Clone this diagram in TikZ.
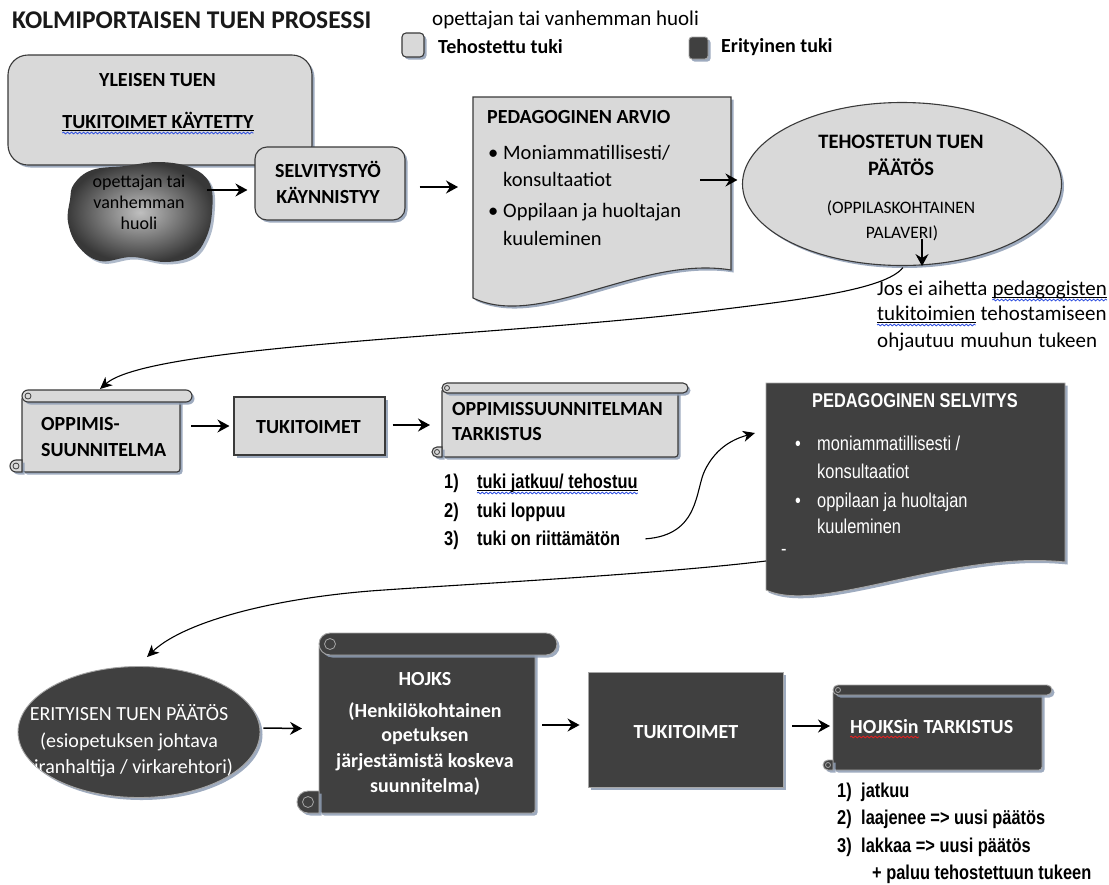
\documentclass[tikz,border=0pt]{standalone}
\usepackage{fontspec}
\setmainfont{Carlito}
\newfontfamily\narrowf[FakeStretch=0.82]{Liberation Sans}
\usetikzlibrary{shapes.geometric,shadows,arrows.meta,decorations.pathmorphing}
\definecolor{lightfill}{HTML}{D9D9D9}
\definecolor{darkfill}{HTML}{404040}
\definecolor{shadowc}{HTML}{8E9DB4}
\definecolor{edgec}{HTML}{3A3A3A}
\definecolor{wavered}{HTML}{E02020}
\definecolor{waveblue}{HTML}{3050E0}
% scroll: #1 style, #2 curl colour, #3 L, #4 T, #5 R, #6 B, #7 d
\newcommand\drawscroll[7]{%
 \pgfmathsetmacro\zh{#7/2}\pgfmathsetmacro\zq{#7/4}%
 \pgfmathsetmacro\zbl{#3+#7}\pgfmathsetmacro\zbr{#5-#7}\pgfmathsetmacro\zbt{#4+#7/2}%
 \pgfmathsetmacro\zrb{#4+#7}\pgfmathsetmacro\zra{#3+1.5*#7}\pgfmathsetmacro\zrr{#5-#7/2}%
 \pgfmathsetmacro\zcb{#6-#7}\pgfmathsetmacro\zcx{#3+#7/2}\pgfmathsetmacro\zcy{#6-#7/2}%
 \path[#1,rounded corners=3pt] (\zbl,\zbt) -- (\zbr,\zbt) -- (\zbr,#6) -- (\zbl,#6) -- cycle;
 \path[#1] (\zbl,\zcb) -- (\zcx,\zcb) arc[start angle=90,end angle=270,radius=\zh pt] -- (\zbl,#6) -- cycle;
 \path[#1] (\zra,#4) -- (\zrr,#4) arc[start angle=90,end angle=-90,radius=\zh pt] -- (\zra,\zrb) arc[start angle=270,end angle=90,radius=\zh pt] -- cycle;
 \draw[#2,line width=0.8pt] ({\zra},{#4+\zh}) circle[radius=\zq pt];
 \draw[#2,line width=0.8pt] ({\zcx},{\zcy}) circle[radius=\zq pt];
}
\tikzset{
 sh/.style={drop shadow={shadow xshift=2.5pt,shadow yshift=-2.5pt,fill=shadowc,opacity=0.85}},
 lightbox/.style={fill=lightfill,draw=edgec,line width=1.1pt,sh},
 darkbox/.style={fill=darkfill,draw=black!35,line width=0.9pt,sh},
 arr/.style={-{Stealth[length=12pt,width=13pt,inset=4pt]},line width=1.5pt},
 carr/.style={-{Stealth[length=12pt,width=11pt,inset=3.5pt]},line width=1.1pt},
 lbl/.style={font=\bfseries\fontsize{20}{25}\selectfont,inner sep=0},
 txt/.style={font=\fontsize{20.5}{27}\selectfont,inner sep=0},
 jtx/.style={font=\fontsize{21}{26}\selectfont,inner sep=0},
 nb/.style={font=\narrowf\bfseries\fontsize{20}{25}\selectfont,inner sep=0},
 nr/.style={font=\narrowf\fontsize{20}{25}\selectfont,inner sep=0},
 ghost/.style={inner sep=0,outer sep=0},
 ulin/.style={line width=0.9pt},
 wave/.style={line width=0.8pt,decorate,decoration={snake,amplitude=0.9pt,segment length=4pt}},
}
\begin{document}
\begin{tikzpicture}[x=1pt,y=-1pt]
\useasboundingbox (0,0) rectangle (1109,884);
\fill[white] (0,0) rectangle (1109,884);

% title and legend
\node[anchor=base west,font=\bfseries\fontsize{25.5}{30}\selectfont,inner sep=0,text=black!90] (title) at (12,28) {KOLMIPORTAISEN TUEN PROSESSI};
\node[anchor=base west,inner sep=0,font=\fontsize{21}{25}\selectfont] (legtxt) at (432,25) {opettajan tai vanhemman huoli};
\node[lightbox,rounded corners=4pt,minimum width=22pt,minimum height=24pt,inner sep=0] (legl) at (413,45) {};
\node[lbl,anchor=base west] (leglt) at (438,53) {Tehostettu tuki};
\node[darkbox,rounded corners=3pt,minimum width=19pt,minimum height=22pt,inner sep=0] (legd) at (698.5,48) {};
\node[lbl,anchor=base west] (legdt) at (721,52) {Erityinen tuki};

% yleisen tuen box
\node[lightbox,rounded corners=20pt,minimum width=304pt,minimum height=110pt,inner sep=0] (ylei) at (160,110) {};
\node[lbl,anchor=base] (yleit1) at (157.5,86) {YLEISEN TUEN};
\node[lbl,anchor=base] (yleit2) at (158,128) {TUKITOIMET KÄYTETTY};
\draw[ulin] ([yshift=-2.5pt]yleit2.base west) -- ([yshift=-2.5pt]yleit2.base east);
\draw[wave,waveblue] ([yshift=-5pt]yleit2.base west) -- ([yshift=-5pt]yleit2.base east);

% blob
\path[shading=radial,inner color=black!25,outer color=black!78,drop shadow={shadow xshift=2.5pt,shadow yshift=-2.5pt,fill=shadowc,opacity=0.7}]
 plot[smooth cycle,tension=0.65] coordinates {(74,184) (92,170) (125,166) (160,162) (192,168) (210,184) (212,212) (206,238) (192,256) (165,262) (132,257) (100,261) (78,246) (68,222) (70,200)};
\node[ghost,minimum width=144pt,minimum height=99pt] (blob) at (140,212.5) {};
\node[anchor=base,inner sep=0,font=\fontsize{18}{21}\selectfont] (bt1) at (139,187) {opettajan tai};
\node[anchor=base,inner sep=0,font=\fontsize{18}{21}\selectfont] (bt2) at (139,208) {vanhemman};
\node[anchor=base,inner sep=0,font=\fontsize{18}{21}\selectfont] (bt3) at (139,229) {huoli};

% selvitystyö
\node[lightbox,rounded corners=12pt,minimum width=150pt,minimum height=73pt,inner sep=0] (selv) at (330,183.5) {};
\node[lbl,anchor=base] (selvt1) at (328,177) {SELVITYSTYÖ};
\node[lbl,anchor=base] (selvt2) at (328,203) {KÄYNNISTYY};

% pedagoginen arvio
\path[lightbox] (473,97) -- (731,97) -- (731,270) .. controls (640,255) and (540,330) .. (473,298) -- cycle;
\node[ghost,minimum width=258pt,minimum height=201pt] (arvio) at (602,197.5) {};
\node[lbl,anchor=base west] (arviot) at (487,123) {PEDAGOGINEN ARVIO};
\node[txt,anchor=base west] (ab1) at (488,159) {•};
\node[txt,anchor=base west] (ab2) at (488,217) {•};
\node[txt,anchor=base west] (al1) at (503,159) {Moniammatillisesti/};
\node[txt,anchor=base west] (al2) at (503,186) {konsultaatiot};
\node[txt,anchor=base west] (al3) at (503,217) {Oppilaan ja huoltajan};
\node[txt,anchor=base west] (al4) at (503,245) {kuuleminen};

% tehostetun tuen päätös
\node[lightbox,ellipse,minimum width=319pt,minimum height=163pt,inner sep=0] (teh) at (902,184) {};
\node[anchor=base,inner sep=0,font=\bfseries\fontsize{20.5}{25}\selectfont] (teht1) at (901,148) {TEHOSTETUN TUEN};
\node[anchor=base,inner sep=0,font=\bfseries\fontsize{20.5}{25}\selectfont] (teht2) at (901,175) {PÄÄTÖS};
\node[anchor=base,inner sep=0,font=\fontsize{17.5}{20}\selectfont] (teht3) at (901,213) {(OPPILASKOHTAINEN};
\node[anchor=base,inner sep=0,font=\fontsize{17.5}{20}\selectfont] (teht4) at (902,238) {PALAVERI)};

\node[jtx,anchor=base west] (jos1a) at (877,295) {Jos ei aihetta};
\node[jtx,anchor=base west] (jos1b) at ([xshift=4.8pt]jos1a.base east) {pedagogisten};
\node[jtx,anchor=base west] (jos2a) at (877,320) {tukitoimien};
\node[jtx,anchor=base west] (jos2b) at ([xshift=4.8pt]jos2a.base east) {tehostamiseen};
\node[jtx,anchor=base west] (jos3) at (877,347) {\makebox[220pt][s]{ohjautuu muuhun tukeen}};
\foreach \w in {jos1b,jos2a}{
 \draw[ulin] ([yshift=-2.5pt]\w.base west) -- ([yshift=-2.5pt]\w.base east);
 \draw[wave,waveblue] ([yshift=-5pt]\w.base west) -- ([yshift=-5pt]\w.base east);
}

% row 2
\drawscroll{lightbox}{edgec}{10}{390}{192}{472}{12}
\node[ghost,minimum width=158pt,minimum height=76pt] (opsu) at (101,434) {};
\node[lbl,anchor=base west] (opsut1) at (41,430) {OPPIMIS-};
\node[lbl,anchor=base west] (opsut2) at (41,456) {SUUNNITELMA};

\node[lightbox,minimum width=151pt,minimum height=58pt,inner sep=0] (tuki1) at (309.5,426) {};
\node[lbl,anchor=base] (tuki1t) at (308.5,433) {TUKITOIMET};

\drawscroll{lightbox}{edgec}{432}{383}{688}{457}{10}
\node[ghost,minimum width=236pt,minimum height=69pt] (tark) at (560,422.5) {};
\node[lbl,anchor=base west] (tarkt1) at (452,415) {OPPIMISSUUNNITELMAN};
\node[lbl,anchor=base west] (tarkt2) at (452,440) {TARKISTUS};

\node[nb,anchor=base west] (n1) at (444,488) {1)};
\node[nb,anchor=base west] (l1) at (477,488) {tuki jatkuu/ tehostuu};
\draw[ulin] ([yshift=-2.5pt]l1.base west) -- ([yshift=-2.5pt]l1.base east);
\draw[wave,waveblue] ([yshift=-5pt]l1.base west) -- ([yshift=-5pt]l1.base east);
\node[nb,anchor=base west] (n2) at (444,517) {2)};
\node[nb,anchor=base west] (l2) at (477,517) {tuki loppuu};
\node[nb,anchor=base west] (n3) at (444,545) {3)};
\node[nb,anchor=base west] (l3) at (477,545) {tuki on riittämätön};

% pedagoginen selvitys
\path[darkbox] (766,383) -- (1065,383) -- (1065,562) .. controls (950,550) and (820,615) .. (766,590) -- cycle;
\node[ghost,minimum width=299pt,minimum height=212pt] (psel) at (915.5,489) {};
\begin{scope}[text=white]
\node[nb,anchor=base] (pselt) at (915,407) {PEDAGOGINEN SELVITYS};
\node[nr,anchor=base west] (pb1) at (795,450) {•};
\node[nr,anchor=base west] (pb2) at (795,507) {•};
\node[nr,anchor=base west] (pl1) at (817,450) {moniammatillisesti /};
\node[nr,anchor=base west] (pl2) at (817,478) {konsultaatiot};
\node[nr,anchor=base west] (pl3) at (817,507) {oppilaan ja huoltajan};
\node[nr,anchor=base west] (pl4) at (817,533) {kuuleminen};
\node[nr,anchor=base west] (pl5) at (781,555) {-};
\end{scope}

% row 3
\node[darkbox,ellipse,minimum width=242pt,minimum height=131pt,inner sep=0] (eri) at (139,732) {};
\begin{scope}
\clip (139,732) ellipse [x radius=121pt,y radius=65.5pt];
\node[anchor=base,inner sep=0,text=white,font=\fontsize{20}{25}\selectfont] (erit1) at (129,720) {ERITYISEN TUEN PÄÄTÖS};
\node[anchor=base,inner sep=0,text=white,font=\fontsize{20}{25}\selectfont] (erit2) at (129,747) {(esiopetuksen johtava};
\node[anchor=base,inner sep=0,text=white,font=\fontsize{20}{25}\selectfont] (erit3) at (129,773) {viranhaltija / virkarehtori)};
\end{scope}

\drawscroll{darkbox}{black!35}{297}{633}{557}{813}{22}
\node[ghost,minimum width=216pt,minimum height=169pt] (hojks) at (427,728.5) {};
\begin{scope}[text=white]
\node[lbl,anchor=base] (hj1) at (425,685) {HOJKS};
\node[lbl,anchor=base] (hj2) at (425,717) {(Henkilökohtainen};
\node[lbl,anchor=base] (hj3) at (425,741) {opetuksen};
\node[lbl,anchor=base] (hj4) at (425,767) {järjestämistä koskeva};
\node[lbl,anchor=base] (hj5) at (425,792) {suunnitelma)};
\end{scope}

\node[darkbox,minimum width=195pt,minimum height=115pt,inner sep=0] (tuki2) at (685.5,729.5) {};
\node[lbl,anchor=base,text=white] (tuki2t) at (686,738) {TUKITOIMET};

\drawscroll{darkbox}{black!35}{823}{685}{1052}{770}{10}
\node[ghost,minimum width=209pt,minimum height=80pt] (htark) at (937.5,730) {};
\node[lbl,anchor=base west,text=white] (htarka) at (850,733) {HOJKSin};
\node[lbl,anchor=base west,text=white] (htarkb) at ([xshift=4.5pt]htarka.base east) {TARKISTUS};
\draw[wave,wavered] ([yshift=-4pt]htarka.base west) -- ([yshift=-4pt]htarka.base east);

\node[nb,anchor=base west] (m1) at (837,797) {1)};
\node[nb,anchor=base west] (k1) at (861,797) {jatkuu};
\node[nb,anchor=base west] (m2) at (837,824) {2)};
\node[nb,anchor=base west] (k2) at (861,824) {laajenee => uusi päätös};
\node[nb,anchor=base west] (m3) at (837,852) {3)};
\node[nb,anchor=base west] (k3) at (861,852) {lakkaa => uusi päätös};
\node[nb,anchor=base west] (k4) at (872,879) {+ paluu tehostettuun tukeen};

% connectors
\draw[arr] ([xshift=-5pt,yshift=22.5pt]blob.east) -- ([xshift=-7pt,yshift=-6.5pt]selv.west);
\draw[arr] ([xshift=14pt,yshift=-3.5pt]selv.east) -- ([xshift=-15pt,yshift=10.5pt]arvio.west);
\draw[arr] ([xshift=-31pt,yshift=17.5pt]arvio.east) -- ([xshift=-4.5pt,yshift=4pt]teh.west);
\draw[arr,line width=1.1pt] ([xshift=20pt,yshift=27pt]teh.south) -- ([xshift=20pt]teh.south);
\draw[carr] ([xshift=1pt,yshift=-1.5pt]teh.south) .. controls (885,290) and (800,300) .. (700,312)
  .. controls (500,336) and (150,345) .. ([xshift=-1pt,yshift=7pt]opsu.north);
\draw[arr] ([xshift=11pt,yshift=8pt]opsu.east) -- ([xshift=-4pt]tuki1.west);
\draw[arr] ([xshift=7pt,yshift=1pt]tuki1.east) -- ([xshift=-12pt,yshift=-2.5pt]tark.west);
\draw[carr] ([xshift=25pt,yshift=-1pt]l3.east) .. controls (700,535) and (695,490) .. (705,470)
  .. controls (715,450) and (730,440) .. ([xshift=-11pt,yshift=56pt]psel.west);
\draw[carr] ([yshift=-72pt]psel.west) .. controls (650,575) and (450,585) .. (370,591)
  .. controls (260,600) and (180,625) .. ([xshift=8pt,yshift=9pt]eri.north);
\draw[arr] ([xshift=3pt,yshift=4pt]eri.east) -- ([xshift=-17pt]hojks.west);
\draw[arr] ([xshift=7pt,yshift=3.5pt]hojks.east) -- ([xshift=-8pt,yshift=4.5pt]tuki2.west);
\draw[arr] ([xshift=9pt,yshift=3.5pt]tuki2.east) -- ([xshift=-3pt,yshift=4pt]htark.west);
\end{tikzpicture}
\end{document}
